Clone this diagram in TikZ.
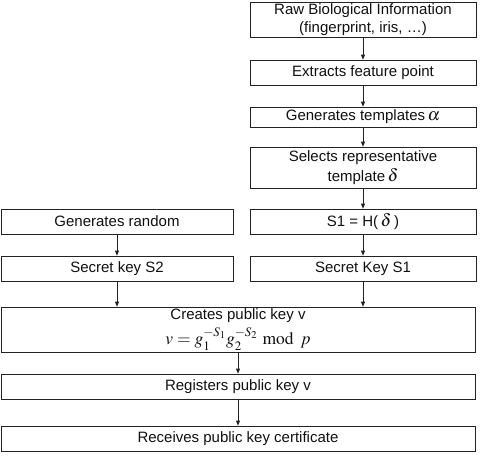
\documentclass[tikz,border=0pt]{standalone}
\usepackage{mathptmx}
\usepackage[no-math]{fontspec}
\setmainfont{Liberation Sans}
\usepackage{tikz}
\usetikzlibrary{arrows.meta}
\definecolor{cLine}{HTML}{222222}
\definecolor{cText}{HTML}{111111}
\newcommand{\bigmath}[1]{{\fontsize{17.5}{18}\selectfont$#1$}}
\tikzset{
  stepbox/.style={draw=cLine, line width=0.7pt, fill=white, align=center,
    inner sep=0pt, text=cText, font=\fontsize{15}{18}\selectfont},
  flow/.style={-{Triangle[length=5pt,width=4pt]}, draw=cLine, line width=0.7pt},
}
\begin{document}
\begin{tikzpicture}[x=1pt, y=-1pt]
  \useasboundingbox (0,0) rectangle (481,456);
  % right column: biometric side
  \node[stepbox, minimum width=226pt, minimum height=35pt] (raw) at (363, 19.5)
    {Raw Biological Information\\(fingerprint, iris, \ldots)};
  \node[stepbox, minimum width=226pt, minimum height=25pt] (extract) at (363, 72.5)
    {Extracts feature point};
  \node[stepbox, minimum width=226pt, minimum height=20pt] (templ) at (363, 117)
    {Generates templates\,\bigmath{\alpha}};
  \node[stepbox, minimum width=226pt, minimum height=41pt] (select) at (363, 167.5)
    {Selects representative\\[2pt]template\,\bigmath{\delta}};
  \node[stepbox, minimum width=226pt, minimum height=25pt] (hash) at (363, 221.5)
    {S1 = H(\,\bigmath{\delta}\,)};
  \node[stepbox, minimum width=226pt, minimum height=25pt] (sk1) at (363, 268.5)
    {Secret Key S1};
  % left column: random side
  \node[stepbox, minimum width=232pt, minimum height=25pt] (rand) at (117, 221.5)
    {Generates random};
  \node[stepbox, minimum width=232pt, minimum height=25pt] (sk2) at (117, 268.5)
    {Secret key S2};
  % bottom: public key
  \node[stepbox, minimum width=474pt, minimum height=45pt] (pub) at (238, 329.5)
    {Creates public key v\\[4pt]\bigmath{v = g_1^{-S_1} g_2^{-S_2} \bmod\, p}};
  \node[stepbox, minimum width=474pt, minimum height=25pt] (reg) at (238, 386.5)
    {Registers public key v};
  \node[stepbox, minimum width=474pt, minimum height=25pt] (cert) at (238, 438.5)
    {Receives public key certificate};
  % connectors
  \draw[flow] (raw) -- (extract);
  \draw[flow] (extract) -- (templ);
  \draw[flow] (templ) -- (select);
  \draw[flow] (select) -- (hash);
  \draw[flow] (hash) -- (sk1);
  \draw[flow] (rand) -- (sk2);
  \draw[flow] (sk2.south) -- (sk2.south |- pub.north);
  \draw[flow] (sk1.south) -- (sk1.south |- pub.north);
  \draw[flow] (pub) -- (reg);
  \draw[flow] (reg) -- (cert);
\end{tikzpicture}
\end{document}
